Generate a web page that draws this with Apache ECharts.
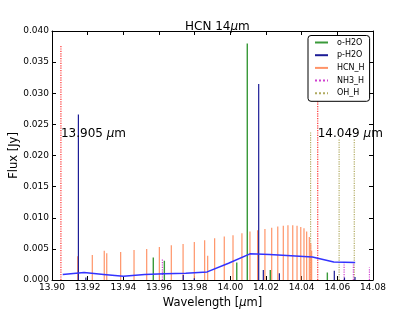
<!DOCTYPE html>
<html>
<head>
<meta charset="utf-8">
<script src="https://cdn.jsdelivr.net/npm/echarts@6/dist/echarts.min.js"></script>
<style>html,body{margin:0;padding:0;background:#fff}#c{width:415px;height:312px}</style>
</head>
<body>
<div id="c"></div>
<script>
// ---- data (wavelength [um], flux [Jy]) ----
const xTicks = [13.90, 13.92, 13.94, 13.96, 13.98, 14.00, 14.02, 14.04, 14.06, 14.08];
const yTicks = [0.000, 0.005, 0.010, 0.015, 0.020, 0.025, 0.030, 0.035, 0.040];
const oH2O = [[13.9568,0.0036],[13.9630,0.0031],[14.0036,0.0028],[14.0095,0.0380],[14.0224,0.0016],[14.0544,0.0012]];
const pH2O = [[13.9148,0.0266],[13.9190,0.0004],[13.9736,0.0008],[13.9798,0.0003],[14.0159,0.0315],[14.0185,0.0016],[14.0275,0.0011],[14.0583,0.0015],[14.0640,0.0004],[14.0699,0.0005]];
const hcnH = [[13.9144,0.0038],[13.9226,0.0040],[13.9293,0.0047],[13.9307,0.0043],[13.9385,0.0045],[13.9460,0.0048],[13.9531,0.0050],[13.9602,0.0053],[13.9669,0.0056],[13.9735,0.0058],[13.9798,0.0061],[13.9856,0.0064],[13.9873,0.0039],[13.9912,0.0067],[13.9966,0.0070],[14.0015,0.0072],[14.0065,0.0075],[14.0110,0.0078],[14.0153,0.0080],[14.0194,0.0082],[14.0232,0.0084],[14.0266,0.0086],[14.0297,0.0087],[14.0323,0.0088],[14.0350,0.0088],[14.0374,0.0087],[14.0395,0.0085],[14.0413,0.0083],[14.0428,0.0078],[14.0443,0.0069],[14.0451,0.0059],[14.0456,0.0047]];
const nh3H = [[13.9619,0.0034],[14.0638,0.0028],[14.0690,0.0028],[14.0780,0.0020]];
const ohH = [[14.0450,0.0238],[14.0610,0.0226],[14.0695,0.0226]];
const windowEdges = [[13.905,0.0376],[14.049,0.0376]];
const windowLabels = ['13.905', '14.049'];
const labelY = 0.0235;
const continuum = [[13.906,0.0009],[13.918,0.0012],[13.929,0.0009],[13.940,0.0006],[13.952,0.0009],[13.963,0.0010],[13.975,0.0011],[13.987,0.0013],[13.999,0.0027],[14.011,0.0042],[14.022,0.0041],[14.034,0.0039],[14.046,0.0037],[14.058,0.0029],[14.070,0.0028]];

function stems(arr){
  const out = [];
  arr.forEach(p => { out.push([p[0],0]); out.push([p[0],p[1]]); out.push([p[0],'-']); });
  return out;
}
const FONT = 'DejaVu Sans';
const chart = echarts.init(document.getElementById('c'), null, {renderer:'canvas'});
function stemSeries(name, arr, color, type, width, z){
  return {name, type:'line', data: stems(arr), showSymbol:false, symbol:'none', connectNulls:false,
    lineStyle:{color, width, type}, itemStyle:{color}, z: z||2, animation:false};
}
const axisCommon = {
  type:'value', min:13.90, max:14.08, interval:0.02,
  axisLine:{show:true, onZero:false, lineStyle:{color:'#000', width:1}},
  axisTick:{show:true, inside:true, length:4, lineStyle:{color:'#000'}},
  splitLine:{show:false}
};
const yCommon = {
  type:'value', min:0, max:0.04, interval:0.005,
  axisLine:{show:true, onZero:false, lineStyle:{color:'#000', width:1}},
  axisTick:{show:true, inside:true, length:4, lineStyle:{color:'#000'}},
  splitLine:{show:false}
};
chart.setOption({
  animation:false,
  backgroundColor:'#fff',
  title:{text:'HCN 14{i|μ}m', left:180, top:16,
    textStyle:{fontFamily:FONT, fontSize:12, fontWeight:'normal', color:'#000',
      rich:{i:{fontFamily:FONT, fontSize:12, fontStyle:'italic', color:'#000'}}}},
  grid:{left:52, right:42, top:31, bottom:32, containLabel:false, outerBoundsMode:'none'},
  legend:{
    data:['o-H2O','p-H2O','HCN_H','NH3_H','OH_H'],
    orient:'vertical', left:308, top:35.5,
    padding:[2,5,3,6], itemWidth:13, itemHeight:10, itemGap:2.7,
    backgroundColor:'#fff', borderColor:'#000', borderWidth:1, borderRadius:3,
    itemStyle:{opacity:0},
    textStyle:{fontFamily:FONT, fontSize:8, color:'#000', lineHeight:10, padding:[0,0,0,4]},
    z:10
  },
  xAxis:[
    Object.assign({}, axisCommon, {position:'bottom',
      name:'Wavelength [{i|μ}m]', nameLocation:'middle', nameGap:17, nameMoveOverlap:false,
      nameTextStyle:{fontFamily:FONT, fontSize:11.5, color:'#000',
        rich:{i:{fontFamily:FONT, fontSize:11.5, fontStyle:'italic', color:'#000'}}},
      axisLabel:{fontFamily:FONT, fontSize:9, color:'#000', margin:3, formatter:v=>v.toFixed(2)}}),
    Object.assign({}, axisCommon, {position:'top', axisLabel:{show:false}})
  ],
  yAxis:[
    Object.assign({}, yCommon, {position:'left',
      name:'Flux [Jy]', nameLocation:'middle', nameGap:32, nameRotate:90, nameMoveOverlap:false,
      nameTextStyle:{fontFamily:FONT, fontSize:11.5, color:'#000'},
      axisLabel:{fontFamily:FONT, fontSize:9, color:'#000', margin:3, formatter:v=>v.toFixed(3)}}),
    Object.assign({}, yCommon, {position:'right', axisLabel:{show:false}})
  ],
  series:[
    stemSeries('window', windowEdges, '#ff3030', 'dotted', 1.2, 1),
    stemSeries('OH_H', ohH, '#b0aa60', 'dotted', 1.2, 2),
    stemSeries('NH3_H', nh3H, '#d040d0', 'dotted', 1.2, 2),
    stemSeries('HCN_H', hcnH, '#ff9468', 'solid', 1.2, 2),
    stemSeries('o-H2O', oH2O, '#3a9a3a', 'solid', 1.4, 3),
    stemSeries('p-H2O', pH2O, '#1c1c96', 'solid', 1.2, 3),
    {name:'continuum', type:'line', data:continuum, showSymbol:false, symbol:'none',
      lineStyle:{color:'#3333ff', width:1.5}, z:4, animation:false},
    {name:'labels', type:'scatter', symbolSize:0, z:5, itemStyle:{opacity:1},
      data: windowEdges.map((p,i)=>({value:[p[0], labelY], name:windowLabels[i]})),
      label:{show:true, position:'right', distance:0, color:'#000',
        fontFamily:FONT, fontSize:12,
        formatter: p => p.name + ' {i|μ}m',
        rich:{i:{fontFamily:FONT, fontSize:12, fontStyle:'italic', color:'#000'}}},
      animation:false}
  ]
});
</script>
</body>
</html>
